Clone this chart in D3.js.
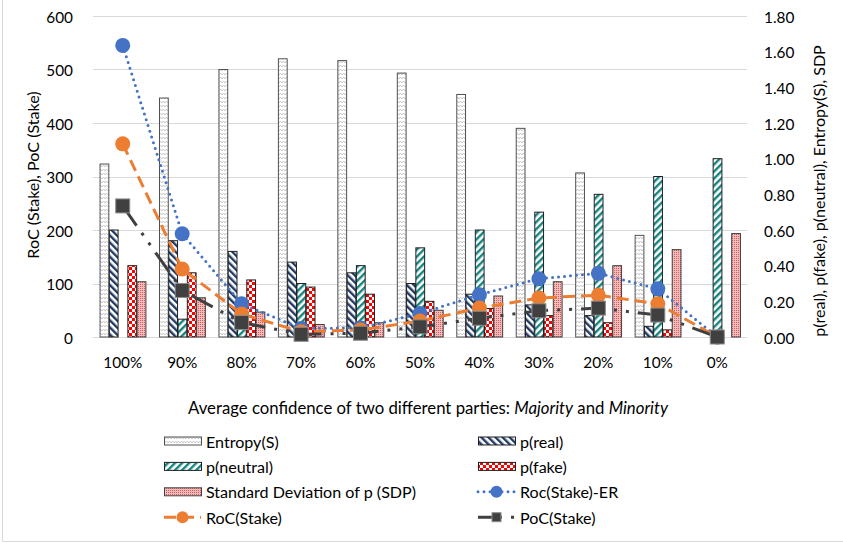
<!DOCTYPE html>
<html>
<head>
<meta charset="utf-8">
<script src="https://cdn.jsdelivr.net/npm/d3@7"></script>
<style>
  html, body { margin: 0; padding: 0; background: #fff; }
  svg { display: block; }
  text { font-family: Lato, "Noto Sans", sans-serif; fill: #000; }
</style>
</head>
<body>
<svg id="chart" width="843" height="546"></svg>
<script>
// ---------- data ----------
const categories = ["100%", "90%", "80%", "70%", "60%", "50%", "40%", "30%", "20%", "10%", "0%"];
const entropy  = [0.97, 1.34, 1.50, 1.56, 1.55, 1.48, 1.36, 1.17, 0.92, 0.57, 0];
const pReal    = [0.60, 0.54, 0.48, 0.42, 0.36, 0.30, 0.24, 0.18, 0.12, 0.06, 0];
const pNeutral = [0, 0.10, 0.20, 0.30, 0.40, 0.50, 0.60, 0.70, 0.80, 0.90, 1.00];
const pFake    = [0.40, 0.36, 0.32, 0.28, 0.24, 0.20, 0.16, 0.12, 0.08, 0.04, 0];
const sdp      = [0.31, 0.22, 0.14, 0.07, 0.08, 0.15, 0.23, 0.31, 0.40, 0.49, 0.58];
const rocER    = [545, 193, 62, 16, 17, 44, 79, 109, 119, 90, 0];
const roc      = [361, 127, 43, 10, 13, 30, 54, 73, 78, 62, 0];
const poc      = [245, 87, 27, 5, 7, 19, 35, 49, 54, 41, 0];
const leftTicks  = [0, 100, 200, 300, 400, 500, 600];
const rightTicks = [0, 0.2, 0.4, 0.6, 0.8, 1.0, 1.2, 1.4, 1.6, 1.8];
const barNames  = ["Entropy(S)", "p(real)", "p(neutral)", "p(fake)", "Standard Deviation of p (SDP)"];
const lineNames = ["Roc(Stake)-ER", "RoC(Stake)", "PoC(Stake)"];
const leftTitle  = "RoC (Stake), PoC (Stake)";
const rightTitle = "p(real), p(fake), p(neutral), Entropy(S), SDP";

// ---------- layout ----------
const svg = d3.select("#chart");
const plot = { left: 93, right: 747, top: 16, bottom: 337 };

const x = d3.scaleBand().domain(categories).range([plot.left, plot.right])
  .paddingInner(0.22).paddingOuter(0.11);
const xSub = d3.scaleBand().domain(d3.range(5)).range([0, x.bandwidth()]);
const yL = d3.scaleLinear().domain([0, 600]).range([plot.bottom, plot.top]);
const yR = d3.scaleLinear().domain([0, 1.8]).range([plot.bottom, plot.top]);

// ---------- patterns ----------
const defs = svg.append("defs");
function stripes(id, color, angle) {
  const p = defs.append("pattern").attr("id", id).attr("patternUnits", "userSpaceOnUse")
    .attr("width", 5).attr("height", 5).attr("patternTransform", `rotate(${angle})`);
  p.append("rect").attr("width", 5).attr("height", 5).attr("fill", "#fff");
  p.append("rect").attr("width", 2.4).attr("height", 5).attr("fill", color);
}
stripes("pReal", "#1f3864", -45);
stripes("pNeutral", "#15837e", 45);
{
  const p = defs.append("pattern").attr("id", "pEntropy").attr("patternUnits", "userSpaceOnUse")
    .attr("width", 6).attr("height", 4);
  p.append("rect").attr("width", 6).attr("height", 4).attr("fill", "#fff");
  p.append("path").attr("d", "M0,3 L1.5,1 L3,3 L4.5,1 L6,3").attr("fill", "none")
    .attr("stroke", "#c4c4c4").attr("stroke-width", 0.9);
}
{
  const p = defs.append("pattern").attr("id", "pFake").attr("patternUnits", "userSpaceOnUse")
    .attr("width", 6).attr("height", 6);
  p.append("rect").attr("width", 6).attr("height", 6).attr("fill", "#fff");
  p.append("rect").attr("width", 3).attr("height", 3).attr("fill", "#ff0000");
  p.append("rect").attr("x", 3).attr("y", 3).attr("width", 3).attr("height", 3).attr("fill", "#ff0000");
}
{
  const p = defs.append("pattern").attr("id", "pSDP").attr("patternUnits", "userSpaceOnUse")
    .attr("width", 2).attr("height", 2);
  p.append("rect").attr("width", 2).attr("height", 2).attr("fill", "#f3bcbc");
  p.append("rect").attr("width", 1).attr("height", 1).attr("fill", "#d65a5a");
}
const fills = ["url(#pEntropy)", "url(#pReal)", "url(#pNeutral)", "url(#pFake)", "url(#pSDP)"];
const barStroke = ["#505050", "#202020", "#202020", "#202020", "#404040"];

// ---------- chart border ----------
svg.append("path").attr("d", "M2.5,0 V541.5 H843").attr("fill", "none")
  .attr("stroke", "#d9d9d9").attr("stroke-width", 1);

// ---------- gridlines ----------
svg.append("g").selectAll("line").data(leftTicks).join("line")
  .attr("x1", plot.left).attr("x2", plot.right)
  .attr("y1", d => Math.round(yL(d)) + 0.5).attr("y2", d => Math.round(yL(d)) + 0.5)
  .attr("stroke", "#d9d9d9").attr("stroke-width", 1);

// ---------- axes (labels via d3 axes) ----------
const gL = svg.append("g").attr("transform", "translate(73,0)")
  .call(d3.axisLeft(yL).tickValues(leftTicks).tickSize(0).tickPadding(0).tickFormat(d3.format("d")));
const gR = svg.append("g").attr("transform", "translate(764,0)")
  .call(d3.axisRight(yR).tickValues(rightTicks).tickSize(0).tickPadding(0).tickFormat(d3.format(".2f")));
const gX = svg.append("g").attr("transform", `translate(0,${plot.bottom})`)
  .call(d3.axisBottom(x).tickSize(0).tickPadding(0));
[gL, gR, gX].forEach(g => {
  g.select(".domain").remove();
  g.selectAll("text").attr("font-family", null).attr("font-size", null).attr("fill", "#000")
    .classed("tick-label", true);
});
gX.selectAll("text").attr("dy", null).attr("y", 25).attr("dominant-baseline", "central");
gL.selectAll("text").attr("dy", null).attr("dominant-baseline", "central");
gR.selectAll("text").attr("dy", null).attr("dominant-baseline", "central");

// ---------- bars ----------
const barSeries = [entropy, pReal, pNeutral, pFake, sdp];
const gBars = svg.append("g");
barSeries.forEach((vals, si) => {
  gBars.append("g").selectAll("rect")
    .data(vals.map((v, i) => ({ v, c: categories[i] })).filter(d => d.v > 0))
    .join("rect")
    .attr("x", d => x(d.c) + xSub(si) + 0.5)
    .attr("width", xSub.bandwidth() - 0.5)
    .attr("y", d => yR(d.v))
    .attr("height", d => yR(0) - yR(d.v))
    .attr("fill", fills[si])
    .attr("stroke", barStroke[si]).attr("stroke-width", 1);
});

// ---------- lines ----------
const lineSeries = [rocER, roc, poc];
const lineColors = ["#4472c4", "#ed7d31", "#404040"];
const dashes = ["0 6", "12 6", "24 9 3 9 3 9"];
const caps = ["round", "butt", "butt"];
const cx = c => x(c) + x.bandwidth() / 2;
const lineGen = d3.line().x((d, i) => cx(categories[i])).y(d => yL(d));

function marker(g, si, px, py, size) {
  if (si < 2) {
    g.append("circle").attr("cx", px).attr("cy", py).attr("r", size / 2)
      .attr("fill", lineColors[si]);
  } else {
    g.append("rect").attr("x", px - size / 2).attr("y", py - size / 2)
      .attr("width", size).attr("height", size)
      .attr("fill", "#404040").attr("stroke", "#8c8c8c").attr("stroke-width", 1);
  }
}
const gLines = svg.append("g");
lineSeries.forEach((vals, si) => {
  const g = gLines.append("g");
  g.append("path").datum(vals).attr("d", lineGen)
    .attr("fill", "none").attr("stroke", lineColors[si]).attr("stroke-width", 3)
    .attr("stroke-dasharray", dashes[si]).attr("stroke-linecap", caps[si])
    .attr("stroke-linejoin", "round");
  vals.forEach((v, i) => marker(g, si, cx(categories[i]), yL(v), si < 2 ? 15 : 14));
});

// ---------- titles ----------
const xTitle = svg.append("text").attr("class", "xtitle").attr("x", 428).attr("y", 407)
  .attr("text-anchor", "middle").attr("dominant-baseline", "central");
xTitle.append("tspan").text("Average confidence of two different parties: ");
xTitle.append("tspan").attr("font-style", "italic").text("Majority");
xTitle.append("tspan").text(" and ");
xTitle.append("tspan").attr("font-style", "italic").text("Minority");

svg.append("text").attr("class", "title")
  .attr("transform", "translate(32,175) rotate(-90)")
  .attr("text-anchor", "middle").attr("dominant-baseline", "central").text(leftTitle);
svg.append("text").attr("class", "title")
  .attr("transform", "translate(818,191) rotate(-90)")
  .attr("text-anchor", "middle").attr("dominant-baseline", "central").text(rightTitle);

// ---------- legend ----------
const legend = svg.append("g");
const legendItems = [
  { type: "bar", si: 0, col: 0, row: 0 },
  { type: "bar", si: 1, col: 1, row: 0 },
  { type: "bar", si: 2, col: 0, row: 1 },
  { type: "bar", si: 3, col: 1, row: 1 },
  { type: "bar", si: 4, col: 0, row: 2 },
  { type: "line", si: 0, col: 1, row: 2 },
  { type: "line", si: 1, col: 0, row: 3 },
  { type: "line", si: 2, col: 1, row: 3 }
];
const colX = [164, 478];
const rowY = r => 441 + r * 25.4;
legendItems.forEach(it => {
  const x0 = colX[it.col], y0 = rowY(it.row);
  if (it.type === "bar") {
    legend.append("rect").attr("x", x0 + 0.5).attr("y", y0 - 4).attr("width", 37).attr("height", 8)
      .attr("fill", fills[it.si]).attr("stroke", barStroke[it.si]).attr("stroke-width", 1);
    legend.append("text").attr("class", "leg").attr("x", x0 + 42).attr("y", y0)
      .attr("dominant-baseline", "central").text(barNames[it.si]);
  } else {
    legend.append("path").attr("d", `M${x0},${y0} H${x0 + 37}`)
      .attr("fill", "none").attr("stroke", lineColors[it.si]).attr("stroke-width", 3)
      .attr("stroke-dasharray", dashes[it.si]).attr("stroke-linecap", caps[it.si]);
    marker(legend, it.si, x0 + 18.5, y0, it.si < 2 ? 12 : 9);
    legend.append("text").attr("class", "leg").attr("x", x0 + 42).attr("y", y0)
      .attr("dominant-baseline", "central").text(lineNames[it.si]);
  }
});

// ---------- font sizing to match reference text widths ----------
function fit(sel, refNode, target) {
  sel.attr("font-size", 16);
  const w = refNode.getComputedTextLength();
  sel.attr("font-size", (16 * target / w).toFixed(2));
}
fit(svg.selectAll(".tick-label"), gX.select("text").node(), 39);
const refLeg = svg.selectAll(".leg").filter(function () { return this.textContent.startsWith("Standard"); }).node();
fit(svg.selectAll(".leg, .title"), refLeg, 210);
fit(xTitle, xTitle.node(), 480);
</script>
</body>
</html>
